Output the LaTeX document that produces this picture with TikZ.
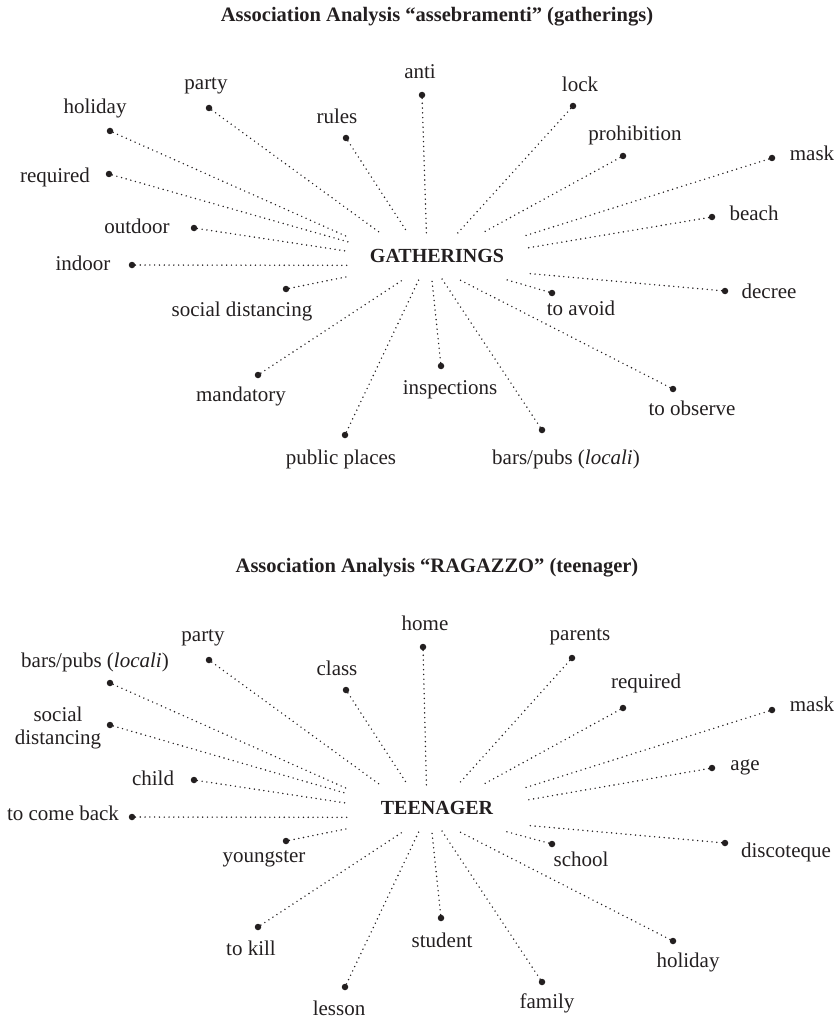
\documentclass[tikz,border=0pt]{standalone}
\usepackage{fontspec}
\setmainfont{Liberation Serif}
\usetikzlibrary{positioning,calc}
\definecolor{ink}{HTML}{231F20}
\tikzstyle{hub}=[font=\bfseries\fontsize{20}{24}\selectfont,text=ink,
  minimum width=177pt,minimum height=45pt,inner sep=0pt]
\tikzstyle{wdot}=[circle,fill=ink,inner sep=0pt,minimum size=6.5pt]
\tikzstyle{spoke}=[ink,line width=1.6pt,line cap=round,dash pattern=on 0pt off 4.8pt]
\tikzstyle{lbl}=[font=\fontsize{21}{23}\selectfont,text=ink,inner sep=0pt,align=center]
\tikzstyle{heading}=[font=\bfseries\fontsize{20.5}{24}\selectfont,text=ink]

\begin{document}
\begin{tikzpicture}[x=1pt,y=-1pt]
  \useasboundingbox (0,0) rectangle (836,1019);
  % gatherings
  \node[heading] (gtitle) at (437,17) {Association Analysis “assebramenti” (gatherings)};
  \node[hub] (g) at (437,256) {GATHERINGS};
  \node[wdot] (gholiday) at (110,131) {};
  \node[wdot] (gparty) at (209,108) {};
  \node[wdot] (grules) at (346,138) {};
  \node[wdot] (ganti) at (422,95) {};
  \node[wdot] (glock) at (573,106) {};
  \node[wdot] (gprohib) at (623,156) {};
  \node[wdot] (gmask) at (772,158) {};
  \node[wdot] (gbeach) at (712,217) {};
  \node[wdot] (gdecree) at (725,291) {};
  \node[wdot] (gavoid) at (552,293) {};
  \node[wdot] (gobserve) at (673,389) {};
  \node[wdot] (gbars) at (542,430) {};
  \node[wdot] (ginspect) at (441,366) {};
  \node[wdot] (gpublic) at (345,435) {};
  \node[wdot] (gmandat) at (258,375) {};
  \node[wdot] (gsocial) at (286,289) {};
  \node[wdot] (gindoor) at (132,265) {};
  \node[wdot] (goutdoor) at (194,228) {};
  \node[wdot] (grequired) at (109,174) {};
  \node[lbl] (gholidayt) at (95,108) {holiday};
  \node[lbl] (gpartyt) at (206,86) {party};
  \node[lbl] (grulest) at (337,116) {rules};
  \node[lbl] (gantit) at (420,72) {anti};
  \node[lbl] (glockt) at (580,84) {lock};
  \node[lbl] (gprohibt) at (635,135) {prohibition};
  \node[lbl] (gmaskt) at (812,153) {mask};
  \node[lbl] (gbeacht) at (754,213) {beach};
  \node[lbl] (gdecreet) at (769,291) {decree};
  \node[lbl] (gavoidt) at (581,308) {to avoid};
  \node[lbl] (gobservet) at (692,408) {to observe};
  \node[lbl] (gbarst) at (566,459) {bars/pubs (\textit{locali})};
  \node[lbl] (ginspectt) at (450,390) {inspections};
  \node[lbl] (gpublict) at (341,459) {public places};
  \node[lbl] (gmandatt) at (241,396) {mandatory};
  \node[lbl] (gsocialt) at (242,311) {social distancing};
  \node[lbl] (gindoort) at (83,263) {indoor};
  \node[lbl] (goutdoort) at (137,226) {outdoor};
  \node[lbl] (grequiredt) at (55,177) {required};
  \draw[spoke] (gholiday) -- (g.168);
  \draw[spoke] (gparty) -- (g.158);
  \draw[spoke] (grules) -- (g.142);
  \draw[spoke] (ganti) -- (g.115);
  \draw[spoke] (glock) -- (g.48);
  \draw[spoke] (gprohib) -- (g.27);
  \draw[spoke] (gmask) -- (g.13);
  \draw[spoke] (gbeach) -- (g.5);
  \draw[spoke] (gdecree) -- (g.-11);
  \draw[spoke] (gavoid) -- (g.-19);
  \draw[spoke] (gobserve) -- (g.-48);
  \draw[spoke] (gbars) -- (g.-78);
  \draw[spoke] (ginspect) -- (g.-103);
  \draw[spoke] (gpublic) -- (g.-128);
  \draw[spoke] (gmandat) -- (g.-145);
  \draw[spoke] (gsocial) -- (g.193);
  \draw[spoke] (gindoor) -- (g.186);
  \draw[spoke] (goutdoor) -- (g.177);
  \draw[spoke] (grequired) -- (g.171);

  % teenager
  \node[heading] (ttitle) at (437,568) {Association Analysis “RAGAZZO” (teenager)};
  \node[hub] (t) at (437,808) {TEENAGER};
  \node[wdot] (tbars) at (110,683) {};
  \node[wdot] (tparty) at (209,660) {};
  \node[wdot] (tclass) at (346,690) {};
  \node[wdot] (thome) at (423,647) {};
  \node[wdot] (tparents) at (572,658) {};
  \node[wdot] (trequired) at (623,708) {};
  \node[wdot] (tmask) at (772,710) {};
  \node[wdot] (tage) at (712,768) {};
  \node[wdot] (tdisco) at (725,843) {};
  \node[wdot] (tschool) at (552,844) {};
  \node[wdot] (tholiday) at (673,941) {};
  \node[wdot] (tfamily) at (542,982) {};
  \node[wdot] (tstudent) at (441,918) {};
  \node[wdot] (tlesson) at (345,987) {};
  \node[wdot] (tkill) at (258,927) {};
  \node[wdot] (tyoung) at (286,841) {};
  \node[wdot] (tcome) at (132,817) {};
  \node[wdot] (tchild) at (194,780) {};
  \node[wdot] (tsocial) at (110,725) {};
  \node[lbl] (tbarst) at (95,662) {bars/pubs (\textit{locali})};
  \node[lbl] (tpartyt) at (203,638) {party};
  \node[lbl] (tclasst) at (337,668) {class};
  \node[lbl] (thomet) at (425,623) {home};
  \node[lbl] (tparentst) at (580,637) {parents};
  \node[lbl] (trequiredt) at (646,683) {required};
  \node[lbl] (tmaskt) at (812,704) {mask};
  \node[lbl] (taget) at (745,767) {age};
  \node[lbl] (tdiscot) at (786,852) {discoteque};
  \node[lbl] (tschoolt) at (581,859) {school};
  \node[lbl] (tholidayt) at (688,962) {holiday};
  \node[lbl] (tfamilyt) at (547,1003) {family};
  \node[lbl] (tstudentt) at (442,940) {student};
  \node[lbl] (tlessont) at (339,1008) {lesson};
  \node[lbl] (tkillt) at (251,948) {to kill};
  \node[lbl] (tyoungt) at (264,859) {youngster};
  \node[lbl] (tcomet) at (63,813) {to come back};
  \node[lbl] (tchildt) at (153,778) {child};
  \node[lbl] (tsocialt) at (58,728) {social\\distancing};
  \draw[spoke] (tbars) -- (t.168);
  \draw[spoke] (tparty) -- (t.158);
  \draw[spoke] (tclass) -- (t.142);
  \draw[spoke] (thome) -- (t.115);
  \draw[spoke] (tparents) -- (t.48);
  \draw[spoke] (trequired) -- (t.27);
  \draw[spoke] (tmask) -- (t.13);
  \draw[spoke] (tage) -- (t.5);
  \draw[spoke] (tdisco) -- (t.-11);
  \draw[spoke] (tschool) -- (t.-19);
  \draw[spoke] (tholiday) -- (t.-48);
  \draw[spoke] (tfamily) -- (t.-78);
  \draw[spoke] (tstudent) -- (t.-103);
  \draw[spoke] (tlesson) -- (t.-128);
  \draw[spoke] (tkill) -- (t.-145);
  \draw[spoke] (tyoung) -- (t.193);
  \draw[spoke] (tcome) -- (t.186);
  \draw[spoke] (tchild) -- (t.177);
  \draw[spoke] (tsocial) -- (t.171);
\end{tikzpicture}
\end{document}
